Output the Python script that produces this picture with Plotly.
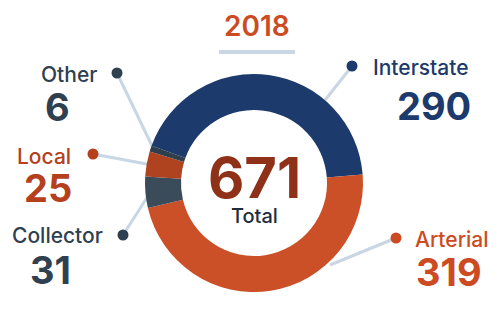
import plotly.graph_objects as go

# ---- data ----
year_label = "2018"
categories = ["Interstate", "Arterial", "Collector", "Local", "Other"]
values = [290, 319, 31, 25, 6]
total_label = "Total"

# ---- styles ----
slice_colors = ["#1d3a6d", "#cb4f27", "#3a4b5a", "#b0431f", "#2f3e4c"]
label_colors = ["#1c3a6b", "#cc4b23", "#2f4050", "#b5401e", "#2f4050"]
line_color = "#c9d6e3"
FONT = "Inter"

# label layout (pixel coords: name pos, value pos, dot pos, leader line end)
label_layout = {
    "Interstate": dict(name=(421, 67), value=(434, 106), dot=(352, 66), end=(322, 104)),
    "Arterial":   dict(name=(452, 239), value=(449, 272), dot=(396, 238), end=(330, 265)),
    "Collector":  dict(name=(57, 235), value=(50, 270), dot=(123, 235), end=(150, 193)),
    "Local":      dict(name=(44, 156), value=(48, 188), dot=(93, 154), end=(152, 165)),
    "Other":      dict(name=(69, 74), value=(57, 107), dot=(117, 73), end=(154, 150)),
}

W, H = 500, 312
cx, cy, R = 254, 183, 109

fig = go.Figure()

fig.add_trace(go.Pie(
    labels=categories,
    values=values,
    hole=0.67,
    sort=False,
    direction="clockwise",
    rotation=-70,
    marker=dict(colors=slice_colors, line=dict(width=0)),
    textinfo="none",
    hoverinfo="label+value",
    showlegend=False,
    domain=dict(x=[(cx - R) / W, (cx + R) / W], y=[1 - (cy + R) / H, 1 - (cy - R) / H]),
))

# dots
dot_x = [label_layout[c]["dot"][0] for c in categories]
dot_y = [label_layout[c]["dot"][1] for c in categories]
fig.add_trace(go.Scatter(
    x=dot_x, y=dot_y, mode="markers",
    marker=dict(size=11, color=label_colors),
    hoverinfo="skip", showlegend=False,
))

shapes = []
annotations = []
for cat, val, col in zip(categories, values, label_colors):
    L = label_layout[cat]
    shapes.append(dict(type="line", xref="x", yref="y",
                       x0=L["dot"][0], y0=L["dot"][1], x1=L["end"][0], y1=L["end"][1],
                       line=dict(color=line_color, width=3), layer="below"))
    nx, ny = L["name"]
    annotations.append(dict(x=nx, y=ny, xref="x", yref="y", text=cat, showarrow=False,
                            xanchor="center", yanchor="middle",
                            font=dict(family=FONT, size=21, color=col, weight=500)))
    vx, vy = L["value"]
    annotations.append(dict(x=vx, y=vy, xref="x", yref="y", text=f"{val}", showarrow=False,
                            xanchor="center", yanchor="middle",
                            font=dict(family=FONT, size=38, color=col, weight=700)))

# title and underline
annotations.append(dict(x=257, y=26, xref="x", yref="y", text=year_label, showarrow=False,
                        xanchor="center", yanchor="middle",
                        font=dict(family=FONT, size=28, color="#cc4b23", weight=600)))
shapes.append(dict(type="line", xref="x", yref="y", x0=219, x1=295, y0=52, y1=52,
                   line=dict(color="#c9d6e3", width=4)))

# center
annotations.append(dict(x=cx, y=178, xref="x", yref="y", text=f"{sum(values)}", showarrow=False,
                        xanchor="center", yanchor="middle",
                        font=dict(family=FONT, size=56, color="#8f3019", weight=700)))
annotations.append(dict(x=cx, y=216, xref="x", yref="y", text=total_label, showarrow=False,
                        xanchor="center", yanchor="middle",
                        font=dict(family=FONT, size=20, color="#1e2d3d", weight=500)))

fig.update_layout(
    width=W, height=H,
    margin=dict(l=0, r=0, t=0, b=0),
    paper_bgcolor="white", plot_bgcolor="rgba(0,0,0,0)",
    xaxis=dict(range=[0, W], visible=False, fixedrange=True),
    yaxis=dict(range=[H, 0], visible=False, fixedrange=True),
    shapes=shapes,
    annotations=annotations,
    showlegend=False,
)

fig.write_html("out.html")
